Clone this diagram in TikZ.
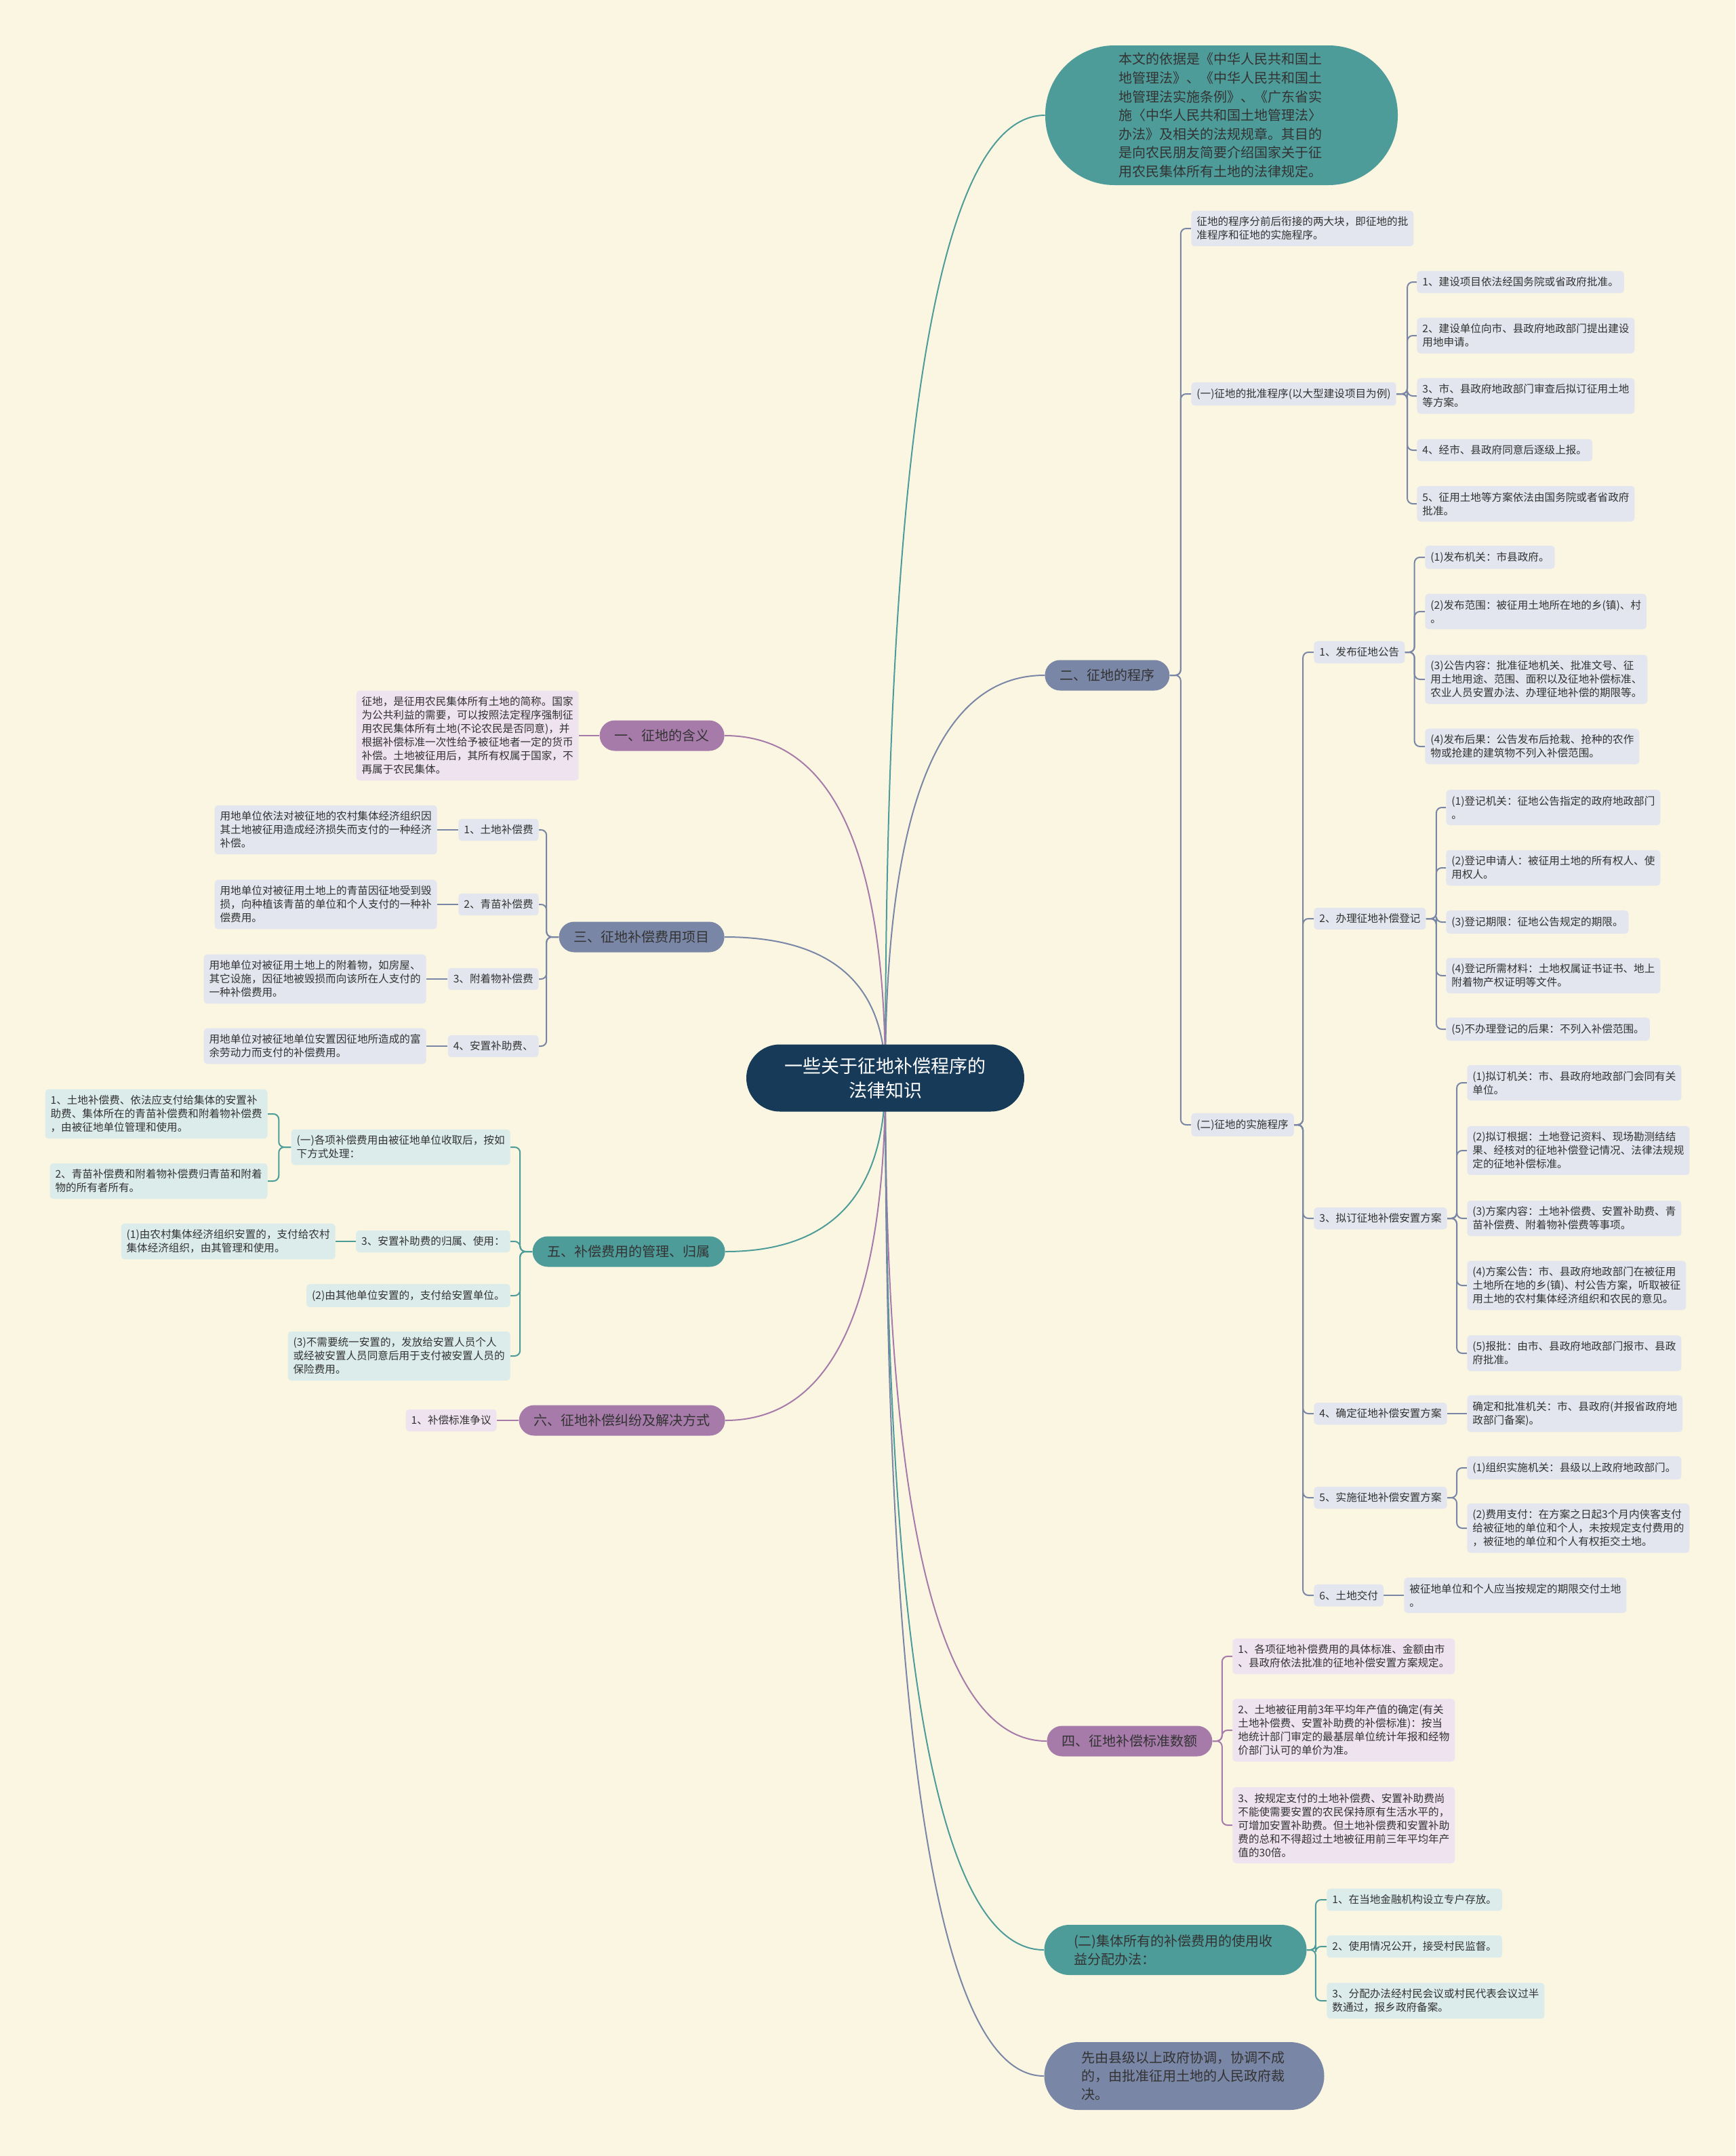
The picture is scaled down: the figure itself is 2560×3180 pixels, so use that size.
\documentclass[tikz,border=0pt]{standalone}
\usepackage{fontspec}
\setmainfont{Noto Sans CJK SC}
\usetikzlibrary{calc}
\pgfdeclarelayer{background}
\pgfsetlayers{background,main}
\definecolor{paper}{HTML}{FAF6E1}
\definecolor{navy}{HTML}{173A59}
\definecolor{ink}{HTML}{333333}
\definecolor{mapteal}{HTML}{4E9C99}
\definecolor{mapslate}{HTML}{7A86A6}
\definecolor{mapplum}{HTML}{A67BAA}
\definecolor{slateleaf}{HTML}{E3E6EE}
\definecolor{plumleaf}{HTML}{EEE3EE}
\definecolor{tealleaf}{HTML}{DCECEA}
\begin{document}
\begin{tikzpicture}[x=0.5pt,y=-0.5pt]
        \tikzstyle{every node}=[text=ink]
        \tikzstyle{pill}=[rounded corners=11.25pt, minimum height=22.5pt, inner xsep=11pt, inner ysep=0pt, font=\fontsize{10}{13}\selectfont]
        \tikzstyle{leaf}=[rounded corners=2.5pt, inner xsep=4pt, inner ysep=4.5pt, align=left, font=\fontsize{7.8}{10}\selectfont]
        \tikzstyle{limb}=[line width=1pt, to path={.. controls ($(\tikztostart)!.667!(\tikztostart |- \tikztotarget)$) and ($(\tikztotarget)!.667!(\tikztostart |- \tikztotarget)$) .. (\tikztotarget)}]
        \tikzstyle{forkline}=[line width=1pt, rounded corners=4pt]

        \node[fill=navy, text=white, rounded corners=24.75pt, minimum width=205pt, minimum height=49.5pt, align=center, font=\fontsize{13.5}{18}\selectfont] (root) at (1306,1590) {一些关于征地补偿程序的\\法律知识};

        \node[fill=mapteal, rounded corners=51pt, minimum width=260pt, minimum height=103pt, text width=152pt, align=left, font=\fontsize{10}{13.8}\selectfont] (basis) at (1802,170) {本文的依据是《中华人民共和国土\\地管理法》、《中华人民共和国土\\地管理法实施条例》、《广东省实\\施〈中华人民共和国土地管理法〉\\办法》及相关的法规规章。其目的\\是向农民朋友简要介绍国家关于征\\用农民集体所有土地的法律规定。};

        \node[pill, fill=mapslate, anchor=west] (proc) at (1541,996) {二、征地的程序};
        \node[leaf, fill=slateleaf, anchor=west] (proc-a) at (1757,337) {征地的程序分前后衔接的两大块，即征地的批\\准程序和征地的实施程序。};
        \node[leaf, fill=slateleaf, anchor=west] (approve) at (1757,581) {(一)征地的批准程序(以大型建设项目为例)};
        \node[leaf, fill=slateleaf, anchor=west] (approve-1) at (2090,416) {1、建设项目依法经国务院或省政府批准。};
        \node[leaf, fill=slateleaf, anchor=west] (approve-2) at (2090,495) {2、建设单位向市、县政府地政部门提出建设\\用地申请。};
        \node[leaf, fill=slateleaf, anchor=west] (approve-3) at (2090,584) {3、市、县政府地政部门审查后拟订征用土地\\等方案。};
        \node[leaf, fill=slateleaf, anchor=west] (approve-4) at (2090,664) {4、经市、县政府同意后逐级上报。};
        \node[leaf, fill=slateleaf, anchor=west] (approve-5) at (2090,743) {5、征用土地等方案依法由国务院或者省政府\\批准。};
        \node[leaf, fill=slateleaf, anchor=west] (carry) at (1757,1659) {(二)征地的实施程序};

        \node[leaf, fill=slateleaf, anchor=west] (notice) at (1938,962) {1、发布征地公告};
        \node[leaf, fill=slateleaf, anchor=west] (notice-1) at (2102,822) {(1)发布机关：市县政府。};
        \node[leaf, fill=slateleaf, anchor=west] (notice-2) at (2102,902) {(2)发布范围：被征用土地所在地的乡(镇)、村\\。};
        \node[leaf, fill=slateleaf, anchor=west] (notice-3) at (2102,1002) {(3)公告内容：批准征地机关、批准文号、征\\用土地用途、范围、面积以及征地补偿标准、\\农业人员安置办法、办理征地补偿的期限等。};
        \node[leaf, fill=slateleaf, anchor=west] (notice-4) at (2102,1101) {(4)发布后果：公告发布后抢栽、抢种的农作\\物或抢建的建筑物不列入补偿范围。};

        \node[leaf, fill=slateleaf, anchor=west] (register) at (1938,1355) {2、办理征地补偿登记};
        \node[leaf, fill=slateleaf, anchor=west] (register-1) at (2133,1191) {(1)登记机关：征地公告指定的政府地政部门\\。};
        \node[leaf, fill=slateleaf, anchor=west] (register-2) at (2133,1280) {(2)登记申请人：被征用土地的所有权人、使\\用权人。};
        \node[leaf, fill=slateleaf, anchor=west] (register-3) at (2133,1360) {(3)登记期限：征地公告规定的期限。};
        \node[leaf, fill=slateleaf, anchor=west] (register-4) at (2133,1439) {(4)登记所需材料：土地权属证书证书、地上\\附着物产权证明等文件。};
        \node[leaf, fill=slateleaf, anchor=west] (register-5) at (2133,1518) {(5)不办理登记的后果：不列入补偿范围。};

        \node[leaf, fill=slateleaf, anchor=west] (draft) at (1938,1797) {3、拟订征地补偿安置方案};
        \node[leaf, fill=slateleaf, anchor=west] (draft-1) at (2164,1597) {(1)拟订机关：市、县政府地政部门会同有关\\单位。};
        \node[leaf, fill=slateleaf, anchor=west] (draft-2) at (2164,1697) {(2)拟订根据：土地登记资料、现场勘测结结\\果、经核对的征地补偿登记情况、法律法规规\\定的征地补偿标准。};
        \node[leaf, fill=slateleaf, anchor=west] (draft-3) at (2164,1797) {(3)方案内容：土地补偿费、安置补助费、青\\苗补偿费、附着物补偿费等事项。};
        \node[leaf, fill=slateleaf, anchor=west] (draft-4) at (2164,1896) {(4)方案公告：市、县政府地政部门在被征用\\土地所在地的乡(镇)、村公告方案，听取被征\\用土地的农村集体经济组织和农民的意见。};
        \node[leaf, fill=slateleaf, anchor=west] (draft-5) at (2164,1996) {(5)报批：由市、县政府地政部门报市、县政\\府批准。};

        \node[leaf, fill=slateleaf, anchor=west] (confirm) at (1938,2085) {4、确定征地补偿安置方案};
        \node[leaf, fill=slateleaf, anchor=west] (confirm-1) at (2164,2085) {确定和批准机关：市、县政府(并报省政府地\\政部门备案)。};
        \node[leaf, fill=slateleaf, anchor=west] (execute) at (1938,2209) {5、实施征地补偿安置方案};
        \node[leaf, fill=slateleaf, anchor=west] (execute-1) at (2164,2165) {(1)组织实施机关：县级以上政府地政部门。};
        \node[leaf, fill=slateleaf, anchor=west] (execute-2) at (2164,2254) {(2)费用支付：在方案之日起3个月内侠客支付\\给被征地的单位和个人，未按规定支付费用的\\，被征地的单位和个人有权拒交土地。};
        \node[leaf, fill=slateleaf, anchor=west] (handover) at (1938,2353) {6、土地交付};
        \node[leaf, fill=slateleaf, anchor=west] (handover-1) at (2071,2353) {被征地单位和个人应当按规定的期限交付土地\\。};

        \node[pill, fill=mapplum, anchor=west] (amount) at (1544,2568) {四、征地补偿标准数额};
        \node[leaf, fill=plumleaf, anchor=west] (amount-1) at (1818,2443) {1、各项征地补偿费用的具体标准、金额由市\\、县政府依法批准的征地补偿安置方案规定。};
        \node[leaf, fill=plumleaf, anchor=west] (amount-2) at (1818,2552) {2、土地被征用前3年平均年产值的确定(有关\\土地补偿费、安置补助费的补偿标准)：按当\\地统计部门审定的最基层单位统计年报和经物\\价部门认可的单价为准。};
        \node[leaf, fill=plumleaf, anchor=west] (amount-3) at (1818,2692) {3、按规定支付的土地补偿费、安置补助费尚\\不能使需要安置的农民保持原有生活水平的，\\可增加安置补助费。但土地补偿费和安置补助\\费的总和不得超过土地被征用前三年平均年产\\值的30倍。};

        \node[fill=mapteal, rounded corners=18.5pt, minimum width=193.5pt, minimum height=37pt, text width=150pt, align=left, font=\fontsize{10}{13.5}\selectfont] (usage) at (1734,2876) {(二)集体所有的补偿费用的使用收\\益分配办法：};
        \node[leaf, fill=tealleaf, anchor=west] (usage-1) at (1957,2802) {1、在当地金融机构设立专户存放。};
        \node[leaf, fill=tealleaf, anchor=west] (usage-2) at (1957,2871) {2、使用情况公开，接受村民监督。};
        \node[leaf, fill=tealleaf, anchor=west] (usage-3) at (1957,2951) {3、分配办法经村民会议或村民代表会议过半\\数通过，报乡政府备案。};

        \node[fill=mapslate, rounded corners=25pt, minimum width=206.5pt, minimum height=50pt, text width=152pt, align=left, font=\fontsize{10}{13.5}\selectfont] (arbitrate) at (1747,3062) {先由县级以上政府协调，协调不成\\的，由批准征用土地的人民政府裁\\决。};

        \node[pill, fill=mapplum, anchor=east] (meaning) at (1069,1085) {一、征地的含义};
        \node[leaf, fill=plumleaf, anchor=east] (meaning-1) at (854,1085) {征地，是征用农民集体所有土地的简称。国家\\为公共利益的需要，可以按照法定程序强制征\\用农民集体所有土地(不论农民是否同意)，并\\根据补偿标准一次性给予被征地者一定的货币\\补偿。土地被征用后，其所有权属于国家，不\\再属于农民集体。};

        \node[pill, fill=mapslate, anchor=east] (items) at (1069,1382) {三、征地补偿费用项目};
        \node[leaf, fill=slateleaf, anchor=east] (items-1) at (795,1224) {1、土地补偿费};
        \node[leaf, fill=slateleaf, anchor=east] (items-1d) at (645,1224) {用地单位依法对被征地的农村集体经济组织因\\其土地被征用造成经济损失而支付的一种经济\\补偿。};
        \node[leaf, fill=slateleaf, anchor=east] (items-2) at (795,1334) {2、青苗补偿费};
        \node[leaf, fill=slateleaf, anchor=east] (items-2d) at (645,1334) {用地单位对被征用土地上的青苗因征地受到毁\\损，向种植该青苗的单位和个人支付的一种补\\偿费用。};
        \node[leaf, fill=slateleaf, anchor=east] (items-3) at (795,1444) {3、附着物补偿费};
        \node[leaf, fill=slateleaf, anchor=east] (items-3d) at (629,1444) {用地单位对被征用土地上的附着物，如房屋、\\其它设施，因征地被毁损而向该所在人支付的\\一种补偿费用。};
        \node[leaf, fill=slateleaf, anchor=east] (items-4) at (795,1543) {4、安置补助费、};
        \node[leaf, fill=slateleaf, anchor=east] (items-4d) at (629,1543) {用地单位对被征地单位安置因征地所造成的富\\余劳动力而支付的补偿费用。};

        \node[pill, fill=mapteal, anchor=east] (manage) at (1070,1846) {五、补偿费用的管理、归属};
        \node[leaf, fill=tealleaf, anchor=east] (manage-1) at (753,1692) {(一)各项补偿费用由被征地单位收取后，按如\\下方式处理：};
        \node[leaf, fill=tealleaf, anchor=east] (manage-1a) at (395,1643) {1、土地补偿费、依法应支付给集体的安置补\\助费、集体所在的青苗补偿费和附着物补偿费\\，由被征地单位管理和使用。};
        \node[leaf, fill=tealleaf, anchor=east] (manage-1b) at (395,1742) {2、青苗补偿费和附着物补偿费归青苗和附着\\物的所有者所有。};
        \node[leaf, fill=tealleaf, anchor=east] (manage-2) at (753,1831) {3、安置补助费的归属、使用：};
        \node[leaf, fill=tealleaf, anchor=east] (manage-2a) at (495,1831) {(1)由农村集体经济组织安置的，支付给农村\\集体经济组织，由其管理和使用。};
        \node[leaf, fill=tealleaf, anchor=east] (manage-3) at (753,1911) {(2)由其他单位安置的，支付给安置单位。};
        \node[leaf, fill=tealleaf, anchor=east] (manage-4) at (753,2000) {(3)不需要统一安置的，发放给安置人员个人\\或经被安置人员同意后用于支付被安置人员的\\保险费用。};

        \node[pill, fill=mapplum, anchor=east] (dispute) at (1070,2095) {六、征地补偿纠纷及解决方式};
        \node[leaf, fill=plumleaf, anchor=east] (dispute-1) at (733,2095) {1、补偿标准争议};

        \begin{pgfonlayer}{background}
        \fill[paper] (0,0) rectangle (2560,3180);

        \draw[limb, mapteal] (root.center) to (basis.west);
        \draw[limb, mapslate] (root.center) to (proc.west);
        \draw[limb, mapplum] (root.center) to (amount.west);
        \draw[limb, mapteal] (root.center) to (usage.west);
        \draw[limb, mapslate] (root.center) to (arbitrate.west);
        \draw[limb, mapplum] (root.center) to (meaning.east);
        \draw[limb, mapslate] (root.center) to (items.east);
        \draw[limb, mapteal] (root.center) to (manage.east);
        \draw[limb, mapplum] (root.center) to (dispute.east);

        \draw[forkline, mapslate] (proc.east) -- ++(16,0) |- (proc-a.west);
        \draw[forkline, mapslate] (proc.east) -- ++(16,0) |- (approve.west);
        \draw[forkline, mapslate] (proc.east) -- ++(16,0) |- (carry.west);

        \draw[forkline, mapslate] (approve.east) -- ++(16,0) |- (approve-1.west);
        \draw[forkline, mapslate] (approve.east) -- ++(16,0) |- (approve-2.west);
        \draw[forkline, mapslate] (approve.east) -- ++(16,0) |- (approve-3.west);
        \draw[forkline, mapslate] (approve.east) -- ++(16,0) |- (approve-4.west);
        \draw[forkline, mapslate] (approve.east) -- ++(16,0) |- (approve-5.west);

        \draw[forkline, mapslate] (carry.east) -- ++(13,0) |- (notice.west);
        \draw[forkline, mapslate] (carry.east) -- ++(13,0) |- (register.west);
        \draw[forkline, mapslate] (carry.east) -- ++(13,0) |- (draft.west);
        \draw[forkline, mapslate] (carry.east) -- ++(13,0) |- (confirm.west);
        \draw[forkline, mapslate] (carry.east) -- ++(13,0) |- (execute.west);
        \draw[forkline, mapslate] (carry.east) -- ++(13,0) |- (handover.west);

        \draw[forkline, mapslate] (notice.east) -- ++(14,0) |- (notice-1.west);
        \draw[forkline, mapslate] (notice.east) -- ++(14,0) |- (notice-2.west);
        \draw[forkline, mapslate] (notice.east) -- ++(14,0) |- (notice-3.west);
        \draw[forkline, mapslate] (notice.east) -- ++(14,0) |- (notice-4.west);

        \draw[forkline, mapslate] (register.east) -- ++(15,0) |- (register-1.west);
        \draw[forkline, mapslate] (register.east) -- ++(15,0) |- (register-2.west);
        \draw[forkline, mapslate] (register.east) -- ++(15,0) |- (register-3.west);
        \draw[forkline, mapslate] (register.east) -- ++(15,0) |- (register-4.west);
        \draw[forkline, mapslate] (register.east) -- ++(15,0) |- (register-5.west);

        \draw[forkline, mapslate] (draft.east) -- ++(14,0) |- (draft-1.west);
        \draw[forkline, mapslate] (draft.east) -- ++(14,0) |- (draft-2.west);
        \draw[forkline, mapslate] (draft.east) -- ++(14,0) |- (draft-3.west);
        \draw[forkline, mapslate] (draft.east) -- ++(14,0) |- (draft-4.west);
        \draw[forkline, mapslate] (draft.east) -- ++(14,0) |- (draft-5.west);

        \draw[line width=1pt, mapslate] (confirm.east) -- (confirm-1.west);
        \draw[forkline, mapslate] (execute.east) -- ++(14,0) |- (execute-1.west);
        \draw[forkline, mapslate] (execute.east) -- ++(14,0) |- (execute-2.west);
        \draw[line width=1pt, mapslate] (handover.east) -- (handover-1.west);

        \draw[forkline, mapplum] (amount.east) -- ++(14,0) |- (amount-1.west);
        \draw[forkline, mapplum] (amount.east) -- ++(14,0) |- (amount-2.west);
        \draw[forkline, mapplum] (amount.east) -- ++(14,0) |- (amount-3.west);

        \draw[forkline, mapteal] (usage.east) -- ++(13,0) |- (usage-1.west);
        \draw[forkline, mapteal] (usage.east) -- ++(13,0) |- (usage-2.west);
        \draw[forkline, mapteal] (usage.east) -- ++(13,0) |- (usage-3.west);

        \draw[line width=1pt, mapplum] (meaning.west) -- (meaning-1.east);

        \draw[forkline, mapslate] (items.west) -- ++(-18,0) |- (items-1.east);
        \draw[forkline, mapslate] (items.west) -- ++(-18,0) |- (items-2.east);
        \draw[forkline, mapslate] (items.west) -- ++(-18,0) |- (items-3.east);
        \draw[forkline, mapslate] (items.west) -- ++(-18,0) |- (items-4.east);
        \draw[line width=1pt, mapslate] (items-1.west) -- (items-1d.east);
        \draw[line width=1pt, mapslate] (items-2.west) -- (items-2d.east);
        \draw[line width=1pt, mapslate] (items-3.west) -- (items-3d.east);
        \draw[line width=1pt, mapslate] (items-4.west) -- (items-4d.east);

        \draw[forkline, mapteal] (manage.west) -- ++(-18,0) |- (manage-1.east);
        \draw[forkline, mapteal] (manage.west) -- ++(-18,0) |- (manage-2.east);
        \draw[forkline, mapteal] (manage.west) -- ++(-18,0) |- (manage-3.east);
        \draw[forkline, mapteal] (manage.west) -- ++(-18,0) |- (manage-4.east);
        \draw[forkline, mapteal] (manage-1.west) -- ++(-18,0) |- (manage-1a.east);
        \draw[forkline, mapteal] (manage-1.west) -- ++(-18,0) |- (manage-1b.east);
        \draw[line width=1pt, mapteal] (manage-2.west) -- (manage-2a.east);

        \draw[line width=1pt, mapplum] (dispute.west) -- (dispute-1.east);
        \end{pgfonlayer}
\end{tikzpicture}
\end{document}
